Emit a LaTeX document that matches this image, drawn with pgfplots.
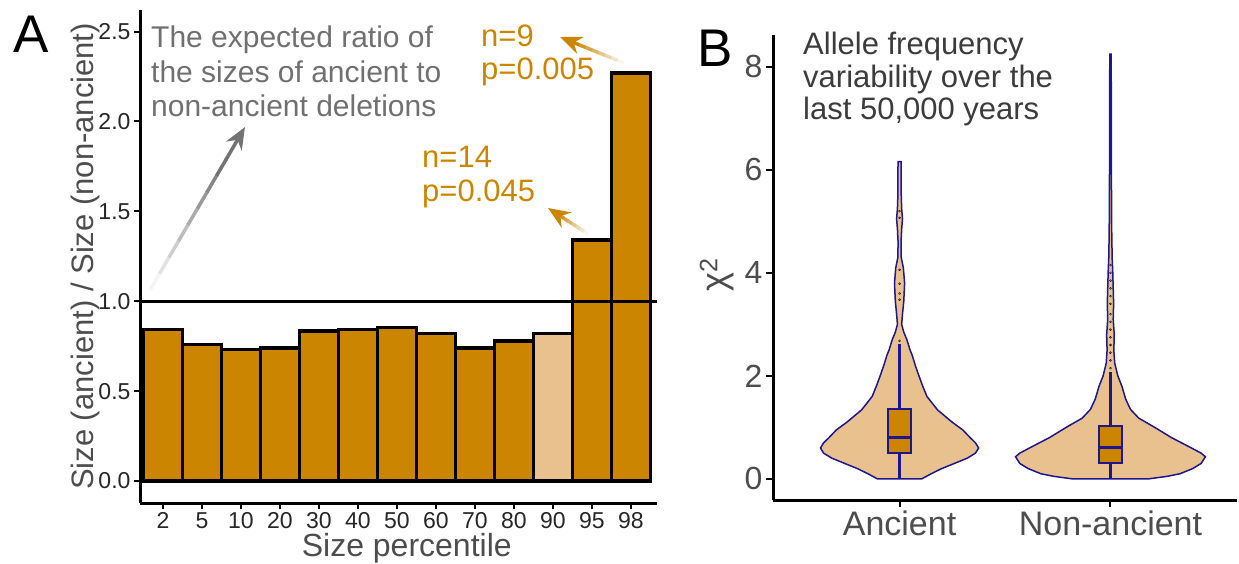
\documentclass[border=0pt]{standalone}
\usepackage{fontspec}
\setmainfont{Liberation Sans}
\usepackage{pgfplots}
\pgfplotsset{compat=1.18}
\usepgfplotslibrary{statistics}
\usetikzlibrary{arrows.meta,calc}

\definecolor{orgdark}{RGB}{204,133,0}
\definecolor{orglight}{RGB}{233,193,143}
\definecolor{navy}{RGB}{30,22,140}
\definecolor{annogray}{RGB}{112,112,112}
\definecolor{arrowgray}{RGB}{115,115,115}
\definecolor{txtgray}{RGB}{77,77,77}
\definecolor{titlegray}{RGB}{60,60,60}
\definecolor{dotpink}{RGB}{215,170,190}

\newcommand{\fs}[2]{\fontsize{#1}{#2}\selectfont}
% arrow whose shaft fades towards the tail: tail, head, colour name, width
\newcommand{\fadearrow}[4]{%
  \foreach \i in {0,...,7}{%
    \pgfmathsetmacro\ta{\i/10}\pgfmathsetmacro\tb{(\i+1)/10+0.005}%
    \pgfmathtruncatemacro\pc{8+\i*13}%
    \draw[line width=#4, color=#3!\pc!white] ($#1!\ta!#2$) -- ($#1!\tb!#2$);}%
  \draw[-{Stealth[length=22pt,width=18pt]}, line width=#4, color=#3] ($#1!0.8!#2$) -- #2;}

\begin{document}
\begin{tikzpicture}[x=1pt,y=1pt]
\useasboundingbox (0,0) rectangle (1239,563);

% ---------------- panel A ----------------
\begin{axis}[
  at={(140pt,60pt)}, anchor=south west,
  scale only axis, width=517pt, height=493pt,
  xmin=-0.59, xmax=12.67, ymin=-0.122, ymax=2.62,
  axis x line*=bottom, axis y line*=left,
  axis line style={-, line width=3pt, black},
  xtick={0,...,12},
  xticklabels={2,5,10,20,30,40,50,60,70,80,90,95,98},
  ytick={0,0.5,1,1.5,2,2.5},
  /pgf/number format/assume math mode=true,
  yticklabel style={/pgf/number format/fixed, /pgf/number format/fixed zerofill, /pgf/number format/precision=1},
  tick align=outside, major tick length=6pt,
  tick style={black, line width=2pt},
  tick label style={font=\fs{23}{23}, text=black!85},
  xlabel={Size percentile},
  ylabel={Size (ancient) / Size (non-ancient)},
  xlabel style={at={(axis description cs:0.516,-0.092)}, anchor=center, font=\fs{32}{32}, text=txtgray},
  ylabel style={at={(axis description cs:-0.106,0.5)}, anchor=center, font=\fs{31}{31}, text=txtgray},
  clip=false,
]
\addplot[ybar, bar width=1, bar shift=0pt, fill=orgdark, draw=black, line width=3.5pt]
  coordinates {(0,0.844) (1,0.76) (2,0.733) (3,0.74) (4,0.835) (5,0.843) (6,0.854)
               (7,0.82) (8,0.74) (9,0.78) (11,1.34) (12,2.27)};
\addplot[ybar, bar width=1, bar shift=0pt, fill=orglight, draw=black, line width=3.5pt]
  coordinates {(10,0.82)};
\addplot[black, line width=3pt] coordinates {(-0.59,1) (12.67,1)};
\end{axis}

% ---------------- panel B ----------------
\begin{axis}[
  at={(773pt,63pt)}, anchor=south west,
  scale only axis, width=464pt, height=465pt,
  xmin=0.4, xmax=2.6, ymin=-0.41, ymax=8.62,
  axis x line*=bottom, axis y line*=left,
  axis line style={-, line width=3pt, black},
  xtick={1,2}, xticklabels={Ancient,Non-ancient},
  ytick={0,2,4,6,8},
  /pgf/number format/assume math mode=true,
  tick align=outside, major tick length=7pt,
  tick style={black, line width=2pt},
  x tick label style={font=\fs{34}{34}, text=txtgray},
  y tick label style={font=\fs{32}{32}, text=txtgray},
  ylabel={χ\textsuperscript{2}},
  ylabel style={at={(axis description cs:-0.121,0.484)}, anchor=center, font=\fs{36}{36}, text=txtgray},
  boxplot/draw direction=y,
  boxplot/every box/.style={draw=navy, fill=orgdark, line width=2pt},
  boxplot/every whisker/.style={draw=navy, line width=2.2pt},
  boxplot/every median/.style={draw=navy, line width=3.5pt},
  clip=false,
]
% Ancient violin
\addplot[fill=orglight, draw=navy, line width=1.5pt] coordinates {
  (0.895,0) (0.85,0.1) (0.80,0.2) (0.74,0.3) (0.68,0.4) (0.64,0.5) (0.625,0.6)
  (0.64,0.7) (0.665,0.8) (0.70,0.95) (0.75,1.1) (0.82,1.34) (0.87,1.6) (0.89,1.8)
  (0.908,2.0) (0.925,2.2) (0.94,2.4) (0.95,2.5) (0.965,2.7) (0.98,2.85) (0.99,3.0)
  (0.986,3.2) (0.98,3.45) (0.976,3.8) (0.982,4.1) (0.992,4.3) (0.993,4.6) (0.99,4.85)
  (0.986,5.05) (0.99,5.25) (0.992,5.5) (0.992,5.9) (0.993,6.16)
  (1.007,6.16) (1.008,5.9) (1.008,5.5) (1.01,5.25) (1.014,5.05) (1.01,4.85) (1.007,4.6)
  (1.008,4.3) (1.018,4.1) (1.024,3.8) (1.02,3.45) (1.014,3.2) (1.01,3.0) (1.02,2.85)
  (1.035,2.7) (1.05,2.5) (1.06,2.4) (1.075,2.2) (1.092,2.0) (1.11,1.8) (1.13,1.6)
  (1.18,1.34) (1.25,1.1) (1.30,0.95) (1.335,0.8) (1.36,0.7) (1.375,0.6) (1.36,0.5)
  (1.32,0.4) (1.26,0.3) (1.20,0.2) (1.15,0.1) (1.105,0) (0.895,0)};
% Non-ancient violin
\addplot[fill=orglight, draw=navy, line width=1.5pt] coordinates {
  (1.82,0) (1.73,0.05) (1.67,0.1) (1.61,0.2) (1.57,0.3) (1.55,0.43) (1.57,0.5)
  (1.63,0.63) (1.71,0.8) (1.79,1.0) (1.866,1.18) (1.905,1.35) (1.928,1.55) (1.945,1.79)
  (1.965,2.0) (1.98,2.25) (1.984,2.5) (1.982,2.8) (1.987,3.1) (1.985,3.4) (1.987,3.7)
  (1.989,4.0) (1.992,4.3) (1.994,4.8) (1.995,5.5) (1.996,6.5) (1.996,7.5) (1.997,8.25)
  (2.003,8.25) (2.004,7.5) (2.004,6.5) (2.005,5.5) (2.006,4.8) (2.008,4.3) (2.011,4.0)
  (2.013,3.7) (2.015,3.4) (2.013,3.1) (2.018,2.8) (2.016,2.5) (2.02,2.25) (2.035,2.0)
  (2.055,1.79) (2.072,1.55) (2.095,1.35) (2.134,1.18) (2.21,1.0) (2.29,0.8) (2.37,0.63)
  (2.43,0.5) (2.45,0.43) (2.43,0.3) (2.39,0.2) (2.33,0.1) (2.27,0.05) (2.18,0) (1.82,0)};
% whiskers (no caps)
\addplot[navy, line width=2.2pt] coordinates {(1,0) (1,2.62)};
\addplot[navy, line width=2.2pt] coordinates {(2,0) (2,2.08)};
% boxes
\addplot[boxplot prepared={lower whisker=0, lower quartile=0.5, median=0.8,
    upper quartile=1.36, upper whisker=2.62, draw position=1, box extend=0.106,
    whisker extend=0}, draw=navy, fill=orgdark, line width=2pt] coordinates {};
\addplot[boxplot prepared={lower whisker=0, lower quartile=0.31, median=0.61,
    upper quartile=1.02, upper whisker=2.08, draw position=2, box extend=0.106,
    whisker extend=0}, draw=navy, fill=orgdark, line width=2pt] coordinates {};
% outliers
\addplot[only marks, mark=*, mark size=1pt, draw=none, fill=dotpink] coordinates {
  (1,2.68) (1,3.48) (1,3.6) (1,3.79) (1,4.06) (1,5.07) (1,5.2)};
\addplot[only marks, mark=*, mark size=1pt, draw=none, fill=dotpink] coordinates {
  (2,2.15) (2,2.3) (2,2.45) (2,2.6) (2,2.75) (2,2.9) (2,3.05) (2,3.2) (2,3.4)
  (2,3.55) (2,3.7) (2,3.85) (2,4.0) (2,4.15)};
\end{axis}

% ---------------- annotations ----------------
\node[anchor=base west, inner sep=0, font=\fs{53}{53}] at (13,510) {A};
\node[anchor=base west, inner sep=0, font=\fs{53}{53}] at (697,496) {B};

\begin{scope}[every node/.style={anchor=base west, inner sep=0, font=\fs{30}{34}, text=annogray}]
\node at (151,515) {The expected ratio of};
\node at (151,480) {the sizes of ancient to};
\node at (151,446) {non-ancient deletions};
\end{scope}
\begin{scope}[every node/.style={anchor=base west, inner sep=0, font=\fs{31}{34}, text=orgdark}]
\node at (481,516) {n=9};
\node at (481,483) {p=0.005};
\node at (422,395) {n=14};
\node at (422,361) {p=0.045};
\end{scope}
\begin{scope}[every node/.style={anchor=base west, inner sep=0, font=\fs{31}{34}, text=titlegray}]
\node at (803,508) {Allele frequency};
\node at (803,475) {variability over the};
\node at (803,443) {last 50,000 years};
\end{scope}

\fadearrow{(150,273)}{(245,436)}{arrowgray}{3.5pt}
\fadearrow{(624,500)}{(560,526)}{orgdark}{3.5pt}
\fadearrow{(588,329)}{(548,355)}{orgdark}{3.5pt}
\end{tikzpicture}
\end{document}
